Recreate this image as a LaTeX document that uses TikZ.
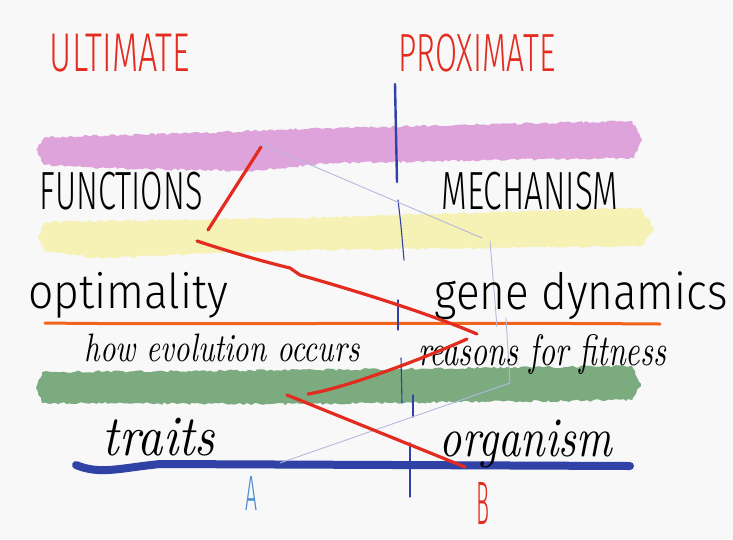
\documentclass[tikz,border=0pt]{standalone}
\usepackage{fontspec}
\usetikzlibrary{decorations.pathmorphing}
\newfontfamily\capsf{Fira Sans Light}
\newfontfamily\handf{Fira Sans Light}
\newcommand\scriptf{\rmfamily}
\definecolor{bgc}{HTML}{F8F8F8}
\definecolor{pinkc}{HTML}{DFA3DC}
\definecolor{yellowc}{HTML}{F6F1B5}
\definecolor{greenc}{HTML}{7BAB7E}
\definecolor{redc}{HTML}{E32B1F}
\definecolor{orangec}{HTML}{F0641E}
\definecolor{bluec}{HTML}{3042A6}
\definecolor{thinc}{HTML}{B4B8DE}
\definecolor{achar}{HTML}{4A90D0}
\tikzset{
  band/.style={decorate,decoration={random steps,segment length=3pt,amplitude=1.2pt}},
  redline/.style={draw=redc,line width=3.2pt,line cap=round,line join=round},
  thinline/.style={draw=thinc,line width=0.9pt,line cap=round},
  divider/.style={draw=bluec,line width=1.1pt,line cap=round},
  txt/.style={inner sep=0pt,outer sep=0pt}
}
\begin{document}
\begin{tikzpicture}[x=1pt,y=-1pt]
\useasboundingbox (0,0) rectangle (733,539);
\fill[bgc] (0,0) rectangle (733,539);

% colour bands
\fill[pinkc,band] (36,150) -- (45,137) -- (200,133) -- (330,128) -- (500,124) -- (632,121) -- (642,140)
  -- (634,158) -- (500,160) -- (330,163) -- (250,171) -- (100,168) -- (45,165) -- cycle;
\fill[yellowc,band] (38,236) -- (45,222) -- (300,218) -- (640,208) -- (654,228)
  -- (642,246) -- (300,250) -- (100,258) -- (45,252) -- cycle;
\fill[greenc,band] (36,388) -- (42,372) -- (300,370) -- (632,366) -- (641,384)
  -- (632,400) -- (300,404) -- (42,403) -- cycle;
\draw[orangec,line width=3pt,line cap=round] (45,323) .. controls (200,325) and (400,322) .. (660,324);
\draw[bluec,line width=8pt,line cap=round] (76,465) .. controls (100,475) and (120,468) .. (160,464) -- (630,466);

% divider
\draw[bluec,line width=2.4pt,line cap=round] (395,84) -- (397,182);
\draw[divider] (398,200) .. controls (401,225) .. (404,260);
\draw[divider] (398,300) -- (398,330);
\draw[divider] (401,358) -- (402,403);
\draw[divider] (413,395) -- (413,417);
\draw[divider] (410,443) -- (410,497);

% thin lines
\draw[thinline] (259,143) -- (482,238);
\draw[thinline] (490,241) -- (497,327);
\draw[thinline] (506,318) -- (510,383) -- (280,463);

% titles
\node[txt,text=redc] (ult) at (120,53) {\resizebox*{140pt}{38pt}{\capsf ULTIMATE}};
\node[txt,text=redc] (prox) at (477,53) {\resizebox*{157pt}{38pt}{\capsf PROXIMATE}};
\node[txt] (func) at (121,191) {\resizebox*{163pt}{38pt}{\capsf FUNCTIONS}};
\node[txt] (mech) at (530,191) {\resizebox*{177pt}{38pt}{\capsf MECHANISM}};
\node[txt] (opt) at (128,295) {\resizebox*{200pt}{46pt}{\handf optimality}};
\node[txt] (gene) at (581,296) {\resizebox*{293pt}{48pt}{\handf gene dynamics}};
\node[txt] (how) at (222,348) {\resizebox*{275pt}{28pt}{\scriptf\itshape how evolution occurs}};
\node[txt] (reas) at (542,354) {\resizebox*{248pt}{40pt}{\scriptf\itshape reasons for fitness}};
\node[txt] (traits) at (159,437) {\resizebox*{112pt}{38pt}{\scriptf\itshape traits}};
\node[txt] (org) at (526,444) {\resizebox*{172pt}{48pt}{\scriptf\itshape organism}};
\node[txt,text=achar] (A) at (251,493) {\resizebox*{12pt}{34pt}{\capsf A}};
\node[txt,text=redc] (B) at (483,503) {\resizebox*{13pt}{42pt}{\capsf B}};

% red zigzag
\draw[redline] (261,147) -- (208,230);
\draw[redline] (197,241) .. controls (230,252) and (265,262) .. (290,268) -- (300,275)
  .. controls (360,292) and (430,314) .. (477,334);
\draw[redline] (308,394) .. controls (345,388) and (420,360) .. (467,339);
\draw[redline] (287,395) -- (465,467);
\end{tikzpicture}
\end{document}
